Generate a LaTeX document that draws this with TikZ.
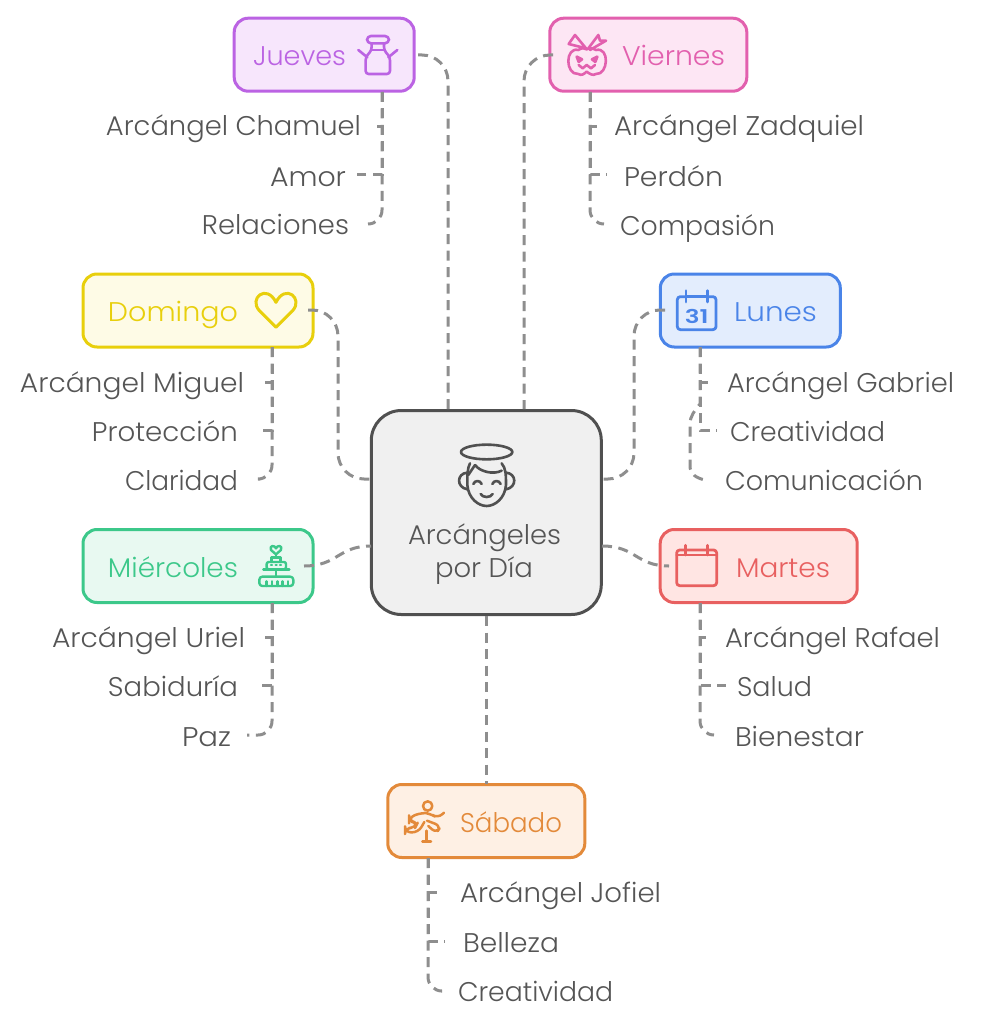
\documentclass[tikz,border=0pt]{standalone}
\usepackage{fontspec}
\usepackage{graphicx}
\setmainfont{Poppins}[UprightFont=* Light]
\definecolor{txt}{HTML}{555555}
\definecolor{edge}{HTML}{8E8E8E}
\definecolor{juS}{HTML}{BB63E3}\definecolor{juF}{HTML}{F7E6FC}
\definecolor{viS}{HTML}{E260AE}\definecolor{viF}{HTML}{FDE6F4}
\definecolor{doS}{HTML}{E8CF0C}\definecolor{doF}{HTML}{FEFBE6}
\definecolor{luS}{HTML}{4A84E8}\definecolor{luF}{HTML}{E3EDFD}
\definecolor{miS}{HTML}{3CC88A}\definecolor{miF}{HTML}{E8F9F1}
\definecolor{maS}{HTML}{E86060}\definecolor{maF}{HTML}{FFE5E3}
\definecolor{saS}{HTML}{E38A3A}\definecolor{saF}{HTML}{FEF0E4}
\definecolor{ceS}{HTML}{505050}\definecolor{ceF}{HTML}{F0F0F0}
\newcommand\fitw[2]{\resizebox{#1pt}{\height}{#2}}
\tikzset{
  box/.style={rectangle,rounded corners=14pt,line width=3pt,inner sep=0pt,minimum height=73pt},
  lab/.style={anchor=base,inner sep=0pt,text=txt,font=\fontsize{27}{27}\selectfont},
  conn/.style={draw=edge,line width=3pt,dash pattern=on 10pt off 6.5pt},
  icon/.style={line width=2.6pt,line cap=round,line join=round},
  iconat/.style={shift={(#1)},x=0.3333pt,y=-0.3333pt},
}
\begin{document}
\begin{tikzpicture}[x=1pt,y=-1pt]
\useasboundingbox (0,0) rectangle (981,1024);
% boxes
\node[box,draw=ceS,fill=ceF,minimum width=230pt,minimum height=204pt,rounded corners=30pt] (ce) at (486.3,512.5) {};
\node[box,draw=juS,fill=juF,minimum width=180pt] (ju) at (324.2,54.7) {};
\node[box,draw=viS,fill=viF,minimum width=197pt] (vi) at (648.3,54.7) {};
\node[box,draw=doS,fill=doF,minimum width=230pt] (do) at (198,310.5) {};
\node[box,draw=luS,fill=luF,minimum width=180pt] (lu) at (750.3,310.5) {};
\node[box,draw=miS,fill=miF,minimum width=230pt] (mi) at (198,566) {};
\node[box,draw=maS,fill=maF,minimum width=197pt] (ma) at (758.7,566) {};
\node[box,draw=saS,fill=saF,minimum width=197pt] (sa) at (486.3,821) {};
% titles
\node[lab,text=juS] (tju) at (299.5,66) {\fitw{93}{Jueves}};
\node[lab,text=viS] (tvi) at (673.5,66) {\fitw{103}{Viernes}};
\node[lab,text=doS] (tdo) at (173,321) {\fitw{130}{Domingo}};
\node[lab,text=luS] (tlu) at (775.5,321) {\fitw{83}{Lunes}};
\node[lab,text=miS] (tmi) at (173,577) {\fitw{130}{Miércoles}};
\node[lab,text=maS] (tma) at (783,577) {\fitw{94}{Martes}};
\node[lab,text=saS] (tsa) at (511,832) {\fitw{102}{Sábado}};
\node[lab] (tc1) at (484.5,544) {\fitw{153}{Arcángeles}};
\node[lab] (tc2) at (484,577) {\fitw{98}{por Día}};
% leaves
\node[lab] (l1) at (233.5,136) {\fitw{255}{Arcángel Chamuel}};
\node[lab] (l2) at (308,186) {\fitw{76}{Amor}};
\node[lab] (l3) at (275.5,235) {\fitw{147}{Relaciones}};
\node[lab] (l4) at (739,136) {\fitw{250}{Arcángel Zadquiel}};
\node[lab] (l5) at (673.5,186) {\fitw{99}{Perdón}};
\node[lab] (l6) at (697.5,235) {\fitw{155}{Compasión}};
\node[lab] (l7) at (132,392) {\fitw{224}{Arcángel Miguel}};
\node[lab] (l8) at (165,441) {\fitw{146}{Protección}};
\node[lab] (l9) at (181.5,490) {\fitw{113}{Claridad}};
\node[lab] (l10) at (840.5,392) {\fitw{227}{Arcángel Gabriel}};
\node[lab] (l11) at (807.5,441) {\fitw{155}{Creatividad}};
\node[lab] (l12) at (824,490) {\fitw{198}{Comunicación}};
\node[lab] (l13) at (148.5,647) {\fitw{193}{Arcángel Uriel}};
\node[lab] (l14) at (173,696) {\fitw{130}{Sabiduría}};
\node[lab] (l15) at (206.5,746) {\fitw{49}{Paz}};
\node[lab] (l16) at (832.5,647) {\fitw{215}{Arcángel Rafael}};
\node[lab] (l17) at (774.5,696) {\fitw{75}{Salud}};
\node[lab] (l18) at (799.5,746) {\fitw{129}{Bienestar}};
\node[lab] (l19) at (560.5,902) {\fitw{201}{Arcángel Jofiel}};
\node[lab] (l20) at (511,952) {\fitw{96}{Belleza}};
\node[lab] (l21) at (535.5,1001) {\fitw{155}{Creatividad}};
% ports
\coordinate (juR) at (418,55);\coordinate (juB) at (382,92);
\coordinate (viL) at (553,55);\coordinate (viB) at (590,92);
\coordinate (doR) at (308,310);\coordinate (doB) at (272,347);
\coordinate (luL) at (665,310);\coordinate (luB) at (700,347);
\coordinate (miR) at (304,566);\coordinate (miB) at (272,603);
\coordinate (maL) at (669,566);\coordinate (maB) at (700,603);
\coordinate (saB) at (428,858);\coordinate (saT) at (486,784);
\coordinate (ceT1) at (448,409);\coordinate (ceT2) at (524,409);
\coordinate (ceL1) at (371,479);\coordinate (ceR1) at (602,479);
\coordinate (ceL2) at (371,546);\coordinate (ceR2) at (602,546);
\coordinate (ceB) at (486,616);
\coordinate (doM) at (338,395);\coordinate (luM) at (634,395);
\coordinate (p1) at (377,127);\coordinate (p2) at (357,175);\coordinate (p3) at (368,224);
\coordinate (p4) at (597,127);\coordinate (p5) at (607,175);\coordinate (p6) at (604,224);
\coordinate (p7) at (265,382);\coordinate (p8) at (256,430);\coordinate (p9) at (260,479);
\coordinate (p10) at (708,382);\coordinate (p11) at (717,430);\coordinate (p12) at (705,480);
\coordinate (p13) at (265,637);\coordinate (p14) at (256,685);\coordinate (p15) at (247,735);
\coordinate (p16) at (706,637);\coordinate (p17) at (726,685);\coordinate (p18) at (714,735);
\coordinate (p19) at (437,892);\coordinate (p20) at (445,941);\coordinate (p21) at (441,991);
\coordinate (b1) at (700,404);\coordinate (b2) at (690,424);\coordinate (b3) at (690,466);
% connectors to hub
\draw[conn,rounded corners=26pt] (juR) -| (ceT1);
\draw[conn,rounded corners=26pt] (viL) -| (ceT2);
\draw[conn,rounded corners=26pt] (doR) -| (doM) |- (ceL1);
\draw[conn,rounded corners=26pt] (luL) -| (luM) |- (ceR1);
\draw[conn] (miR) .. controls (338,566) and (338,546) .. (ceL2);
\draw[conn] (ceR2) .. controls (636,546) and (636,566) .. (maL);
\draw[conn] (ceB) -- (saT);
% leaf connectors
\foreach \s/\t in {juB/p1,juB/p2,viB/p4,viB/p5,doB/p7,doB/p8,luB/p10,luB/p11,miB/p13,miB/p14,maB/p16,maB/p17,saB/p19,saB/p20}{
  \draw[conn] (\s) |- (\t);
}
\foreach \s/\t in {juB/p3,viB/p6,doB/p9,miB/p15,maB/p18,saB/p21}{
  \draw[conn,rounded corners=14pt] (\s) |- (\t);
}
\draw[conn] (luB) -- (b1) .. controls (695,410) and (690,416) .. (b2) -- (b3) .. controls (690,474) and (696,478) .. (p12);
% icons
% Jueves milk can
\begin{scope}[iconat={220,0},draw=juS,icon]
\draw[rounded corners=4pt] (441,108) rectangle (507,130);
\draw[rounded corners=3pt] (455,130) -- (455,150) -- (437,172) -- (437,222) -- (510,222) -- (510,172) -- (492,150) -- (492,130);
\draw (455,150) -- (492,150);
\draw (415,150) -- (442,172) (532,150) -- (505,172);
\end{scope}
% Viernes pumpkin
\begin{scope}[iconat={510,0},draw=viS,icon]
\draw (205,150) .. controls (165,140) and (165,225) .. (205,222) .. controls (215,228) and (222,222) .. (230,215) .. controls (240,222) and (248,228) .. (258,222) .. controls (295,225) and (300,140) .. (258,150) .. controls (245,142) and (235,145) .. (230,148) .. controls (225,145) and (215,142) .. (205,150) -- cycle;
\draw (228,145) -- (176,132) -- (195,105) -- (228,145);
\draw (235,145) -- (265,105) -- (270,122) -- (288,122) -- (240,150);
\draw (200,170) -- (216,178) -- (206,186) -- cycle;
\draw (262,170) -- (246,178) -- (256,186) -- cycle;
\draw (206,195) -- (218,205) -- (230,195) -- (243,205) -- (255,195);
\end{scope}
% Domingo heart
\begin{scope}[iconat={70,270},draw=doS,icon,line width=3pt]
\draw (618,172) -- (568,122) .. controls (535,85) and (590,40) .. (618,97) .. controls (646,40) and (701,85) .. (668,122) -- cycle;
\end{scope}
% Lunes calendar
\begin{scope}[iconat={600,260},draw=luS,icon,line width=2.8pt]
\draw[rounded corners=3pt] (258,110) -- (232,110) -- (232,209) -- (348,209) -- (348,110) -- (322,110);
\draw (258,92) -- (258,126) (322,92) -- (322,126) (258,110) -- (322,110);
\node[inner sep=0pt,text=luS,font=\fontsize{19}{19}\bfseries\selectfont] (cal) at (290,169) {\scalebox{1.3}[1]{31}};
\end{scope}
% Miercoles cake
\begin{scope}[iconat={70,520},draw=miS,icon,line width=2.4pt]
\draw (618,103) -- (603,90) .. controls (597,75) and (615,75) .. (618,85) .. controls (621,75) and (639,75) .. (633,90) -- cycle;
\draw (605,112) -- (631,112) (618,103) -- (618,112);
\draw (605,112) -- (605,126) (631,112) -- (631,126);
\draw[rounded corners=2pt] (590,126) rectangle (648,148);
\draw (580,149) -- (658,149) (618,149) -- (618,170);
\draw[rounded corners=3pt] (568,170) rectangle (670,198);
\draw (590,198) -- (590,184) (606,198) -- (606,184) (622,198) -- (622,184) (638,198) -- (638,184) (654,198) -- (654,184);
\draw (603,135) -- (606,135) (617,135) -- (620,135) (630,135) -- (633,135);
\end{scope}
% Martes calendar
\begin{scope}[iconat={600,520},draw=maS,icon,line width=2.8pt]
\draw[rounded corners=3pt] (230,90) rectangle (350,197);
\draw (230,105) -- (350,105);
\draw (257,76) -- (257,105) (322,76) -- (322,105);
\end{scope}
% Sabado runner
\begin{scope}[iconat={395,790},draw=saS,icon,line width=2.5pt]
\draw (98,48) circle (14);
\draw[rounded corners=6pt] (147,68) -- (128,85) -- (105,70) -- (80,68) -- (42,82) -- (42,94) -- (68,98) -- (60,114) -- (30,114) -- (30,127) -- (70,127) -- (88,96);
\draw[rounded corners=6pt] (96,92) -- (138,108) -- (124,130) -- (100,108);
\draw (95,122) -- (95,155) (82,155) -- (108,155);
\end{scope}
% Hub angel
\begin{scope}[iconat={360,400},draw=ceS,icon,line width=2.6pt]
\draw (380,156) ellipse (77 and 22);
\draw (330,190) .. controls (322,205) and (322,225) .. (322,255) .. controls (325,295) and (355,318) .. (380,318) .. controls (405,318) and (435,295) .. (438,255) .. controls (438,225) and (438,205) .. (425,190);
\draw (345,195) .. controls (360,215) and (400,225) .. (425,212);
\draw (345,195) -- (325,225);
\draw (322,218) .. controls (290,220) and (288,262) .. (322,268);
\draw (438,218) .. controls (470,220) and (472,262) .. (438,268);
\draw (340,252) .. controls (345,240) and (360,240) .. (365,252);
\draw (397,252) .. controls (402,240) and (417,240) .. (422,252);
\draw (362,282) .. controls (368,294) and (392,294) .. (398,282);
\end{scope}
\end{tikzpicture}
\end{document}
